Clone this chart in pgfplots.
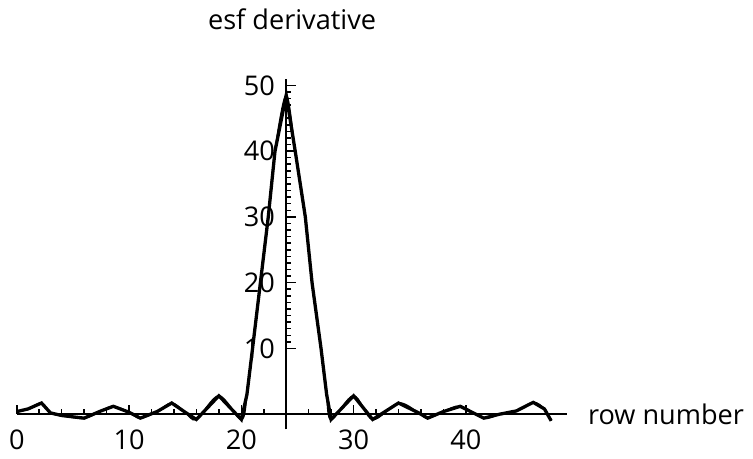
\documentclass[border=0pt]{standalone}
\usepackage{pgfplots}
\pgfplotsset{compat=1.18}
\usepackage{pgfplotstable}
\usepackage{fontspec}
\setmainfont{Open Sans}

% esf derivative, x = row number, y axis crosses at row 24
\pgfplotstableread{
x     y
0     0.4
1     0.8
2.2   1.7
3     0.2
4    -0.2
6    -0.6
7.5   0.5
8.6   1.2
10    0.3
11   -0.6
12.5  0.4
13.8  1.7
15    0.3
16   -0.8
18    2.8
20   -0.8
20.5  3
21    10
21.7  20
22.4  30
23    40
24    48.5
24.8  40
25.7  30
26.3  20
27.1  10
27.6  3
28   -0.8
30    2.8
31.7 -0.8
34    1.7
35.8  0.2
36.6 -0.6
38    0.4
39.5  1.2
41.6 -0.6
43    0
44.5  0.5
46    1.8
47    0.8
47.6 -1
}\esfdata

\begin{document}
\fontsize{14}{17}\selectfont
\begin{tikzpicture}
\begin{axis}[
    scale only axis,
    width=284pt, height=181pt,
    axis lines=middle,
    axis line style={-, line width=1.2pt},
    xmin=-24, xmax=25,
    ymin=-2.3, ymax=51,
    xtick={-24,-14,-4,6,16},
    xticklabels={0,10,20,30,40},
    minor x tick num=4,
    ytick={10,20,30,40,50},
    minor y tick num=9,
    tick align=inside,
    major tick length=5pt,
    minor tick length=2.5pt,
    tick style={black, line width=0.8pt},
    xticklabel style={yshift=-3pt},
    yticklabel style={xshift=-1pt},
    /pgf/number format/assume math mode=true,
    xlabel={row number},
    every axis x label/.style={at={(current axis.right of origin)}, anchor=west, xshift=6pt},
    clip=false,
]
\addplot[black, line width=1.7pt] table[x expr=\thisrow{x}-24, y=y] {\esfdata};
\addplot[black, line width=0.9pt, smooth] table[x expr=\thisrow{x}-24, y=y] {\esfdata};
\node[anchor=west] at (axis cs:-7.8,60) {esf derivative};
\end{axis}
\end{tikzpicture}
\end{document}
